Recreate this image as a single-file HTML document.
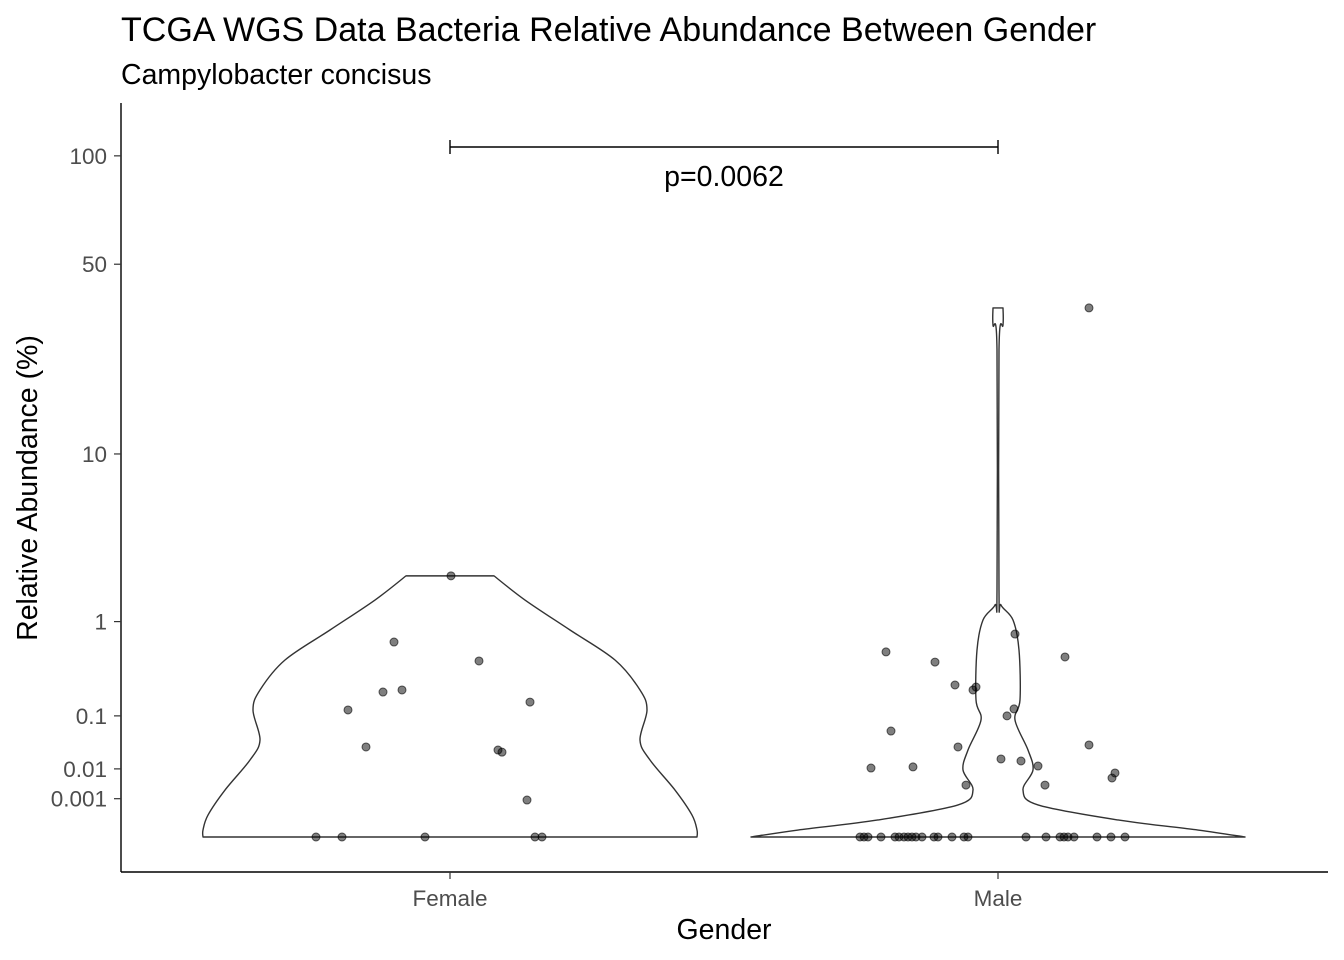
<!DOCTYPE html>
<html><head><meta charset="utf-8"><style>
body{margin:0;background:#fff}
svg{display:block;font-family:"Liberation Sans",Arial,sans-serif}
</style></head><body>
<svg id="chart" width="1344" height="960" viewBox="0 0 1344 960">
<text x="121" y="41" font-size="34" fill="#000">TCGA WGS Data Bacteria Relative Abundance Between Gender</text>
<text x="121" y="84" font-size="28.5" fill="#000">Campylobacter concisus</text>
<g id="plot"></g>
<text x="724" y="939" font-size="28.5" text-anchor="middle" fill="#000">Gender</text>
<text transform="translate(37,488) rotate(-90)" font-size="28.5" text-anchor="middle" fill="#000">Relative Abundance (%)</text>
</svg>
<script>
const categories=["Female","Male"];
const yTicks=[100,50,10,1,0.1,0.01,0.001];
const yTickLabels=["100","50","10","1","0.1","0.01","0.001"];
const femaleViolinValues=[2.16,1.465,0.853,0.456,0.217,0.121,0.041,0.0163,0.00226,0.000108,0.0000011,0];
const femaleViolinWidths=[44,75,120,165,190,197,190,200,225,242,247,247];
const maleViolinValues=[36.4,31.9,26.1,1.73,1.345,1.03,0.568,0.164,0.087,0.0266,0.00936,0.00226,0.00049,0.000039,0.0000011,0];
const maleViolinWidths=[5,5,1,1,3,15,21,22,17,30,35,25,40,120,200,247];
const femalePoints=[2.16,0.671,0.446,0.205,0.217,0.154,0.121,0.0305,0.0266,0.0241,0.00087,0,0,0,0,0];
const femaleJitter=[1,-56,29,-67,-48,80,-102,-84,48,52,77,-134,-108,-25,85,92];
const malePoints=[0.545,0.435,0.788,0.488,0.248,0.217,0.235,0.125,0.1,0.0586,0.0305,0.0333,0.0172,0.0155,0.0118,0.0105,0.0112,0.0078,0.00563,0.00338,0.00338,36.4,0,0,0,0,0,0,0,0,0,0,0,0,0,0,0,0,0,0,0,0,0,0,0,0,0];
const maleJitter=[-112,-63,17,67,-43,-25,-22,16,9,-107,-40,91,3,23,40,-127,-85,117,114,-32,47,91,-138,-134,-130,-117,-103,-99,-94,-90,-86,-82,-76,-64,-60,-46,-34,-30,28,48,62,66,70,76,99,113,127];
const pLabel="p=0.0062";
const NS="http://www.w3.org/2000/svg";
const plot=document.getElementById('plot');
const xScale=i=>450+i*548;
const yScale=v=>837-215.4*Math.pow(v,0.25);
function mk(tag,attrs){const e=document.createElementNS(NS,tag);for(const k in attrs)e.setAttribute(k,attrs[k]);plot.appendChild(e);return e;}
let e=mk('line',{x1:121,y1:103,x2:121,y2:872,stroke:'#000','stroke-width':1.4});


e=mk('line',{x1:121,y1:872,x2:1328,y2:872,stroke:'#000','stroke-width':1.4});


yTicks.forEach((v,i)=>{const y=yScale(v);
 let t=mk('line',{x1:114,y1:y,x2:121,y2:y,stroke:'#333','stroke-width':1.2});
 
 
 let l=mk('text',{x:107,y:y+8,'font-size':22.5,'text-anchor':'end',fill:'#4d4d4d'});l.textContent=yTickLabels[i];
 
 
});
categories.forEach((c,i)=>{const x=xScale(i);
 let t=mk('line',{x1:x,y1:872,x2:x,y2:879,stroke:'#333','stroke-width':1.2});
 
 
 let l=mk('text',{x:x,y:906,'font-size':22.5,'text-anchor':'middle',fill:'#4d4d4d'});l.textContent=c;
 
 
});
function smooth(p){let d='M'+p[0][0]+','+p[0][1];
 for(let k=0;k<p.length-1;k++){const p0=p[k-1]||p[k],p1=p[k],p2=p[k+1],p3=p[k+2]||p2;
  const c1=[p1[0]+(p2[0]-p0[0])/6,p1[1]+(p2[1]-p0[1])/6],c2=[p2[0]-(p3[0]-p1[0])/6,p2[1]-(p3[1]-p1[1])/6];
  d+=` C${c1[0]},${c1[1]} ${c2[0]},${c2[1]} ${p2[0]},${p2[1]}`;}
 return d;}
function violin(i,vals,ws,name){const cx=xScale(i);
 const r=vals.map((v,k)=>[cx+ws[k],yScale(v)]);
 const l=vals.map((v,k)=>[cx-ws[k],yScale(v)]).reverse();
 const top=yScale(vals[0]),bot=yScale(vals[vals.length-1]);
 let d=smooth(r)+` L${cx-ws[ws.length-1]},${bot} `+smooth(l).replace(/^M/,'L')+' Z';
 let p=mk('path',{d:d,fill:'#fff',stroke:'#333','stroke-width':1.4,'stroke-linejoin':'round'});
 
 
}
violin(0,femaleViolinValues,femaleViolinWidths,'violin-female');
violin(1,maleViolinValues,maleViolinWidths,'violin-male');
function pts(i,vals,jit,name){vals.forEach((v,k)=>{
 let c=mk('circle',{cx:xScale(i)+jit[k],cy:yScale(v),r:4,fill:'rgba(0,0,0,0.5)',stroke:'rgba(0,0,0,0.6)','stroke-width':1});
 
 
});}
pts(0,femalePoints,femaleJitter,'point-female');
pts(1,malePoints,maleJitter,'point-male');
const by=147;
e=mk('path',{d:`M${xScale(0)},${by+7} V${by-7} V${by} H${xScale(1)} V${by-7} V${by+7}`,fill:'none',stroke:'#000','stroke-width':1.4});


e=mk('text',{x:(xScale(0)+xScale(1))/2,y:186,'font-size':28.5,'text-anchor':'middle',fill:'#000'});e.textContent=pLabel;


</script>
</body></html>
